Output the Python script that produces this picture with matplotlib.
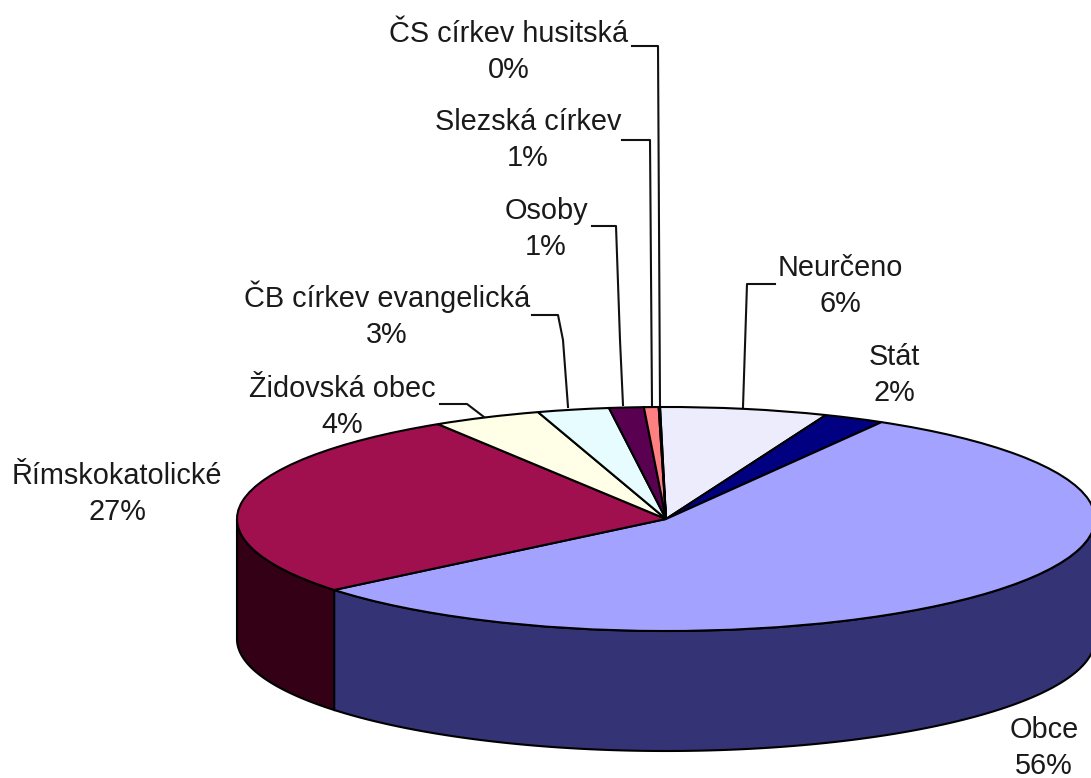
import numpy as np
import matplotlib
matplotlib.use('Agg')
import matplotlib.pyplot as plt

### Datos ###
nombres = ['Neurčeno', 'Stát', 'Obce', 'Římskokatolické', 'Židovská obec',
           'ČB církev evangelická', 'Osoby', 'Slezská církev', 'ČS církev husitská']
valores = [6.3, 2.3, 55.7, 27.0, 4.1, 2.7, 1.3, 0.55, 0.05]
colores = ['#ECECFC', '#000080', '#A3A3FF', '#A0104F', '#FFFFE8',
           '#E6FCFF', '#5A0050', '#FF8080', '#EEEEFF']
paredes = {'Obce': '#343375', 'Římskokatolické': '#330015'}

plt.rcParams['font.family'] = ['Liberation Sans', 'DejaVu Sans']

W, H = 1091, 778
cx, cy, rx, ry, alto = 666, 519, 429, 112, 120

fig = plt.figure(figsize=(W / 100, H / 100), dpi=100)

### Pastel: circulo unidad aplastado por los limites de los ejes ###
ax = fig.add_axes([0, 0, 1, 1])
wedges, _ = ax.pie(valores, colors=colores, startangle=90.8, counterclock=False,
                   wedgeprops={'edgecolor': 'black', 'linewidth': 1.5, 'zorder': 3})
ax.set_aspect('auto')
ax.set_xlim(-cx / rx, (W - cx) / rx)
ax.set_ylim((cy - H) / ry, cy / ry)
ax.axis('off')

# Pared lateral, solo la mitad de abajo del circulo
prof = alto / ry
for w, nombre in zip(wedges, nombres):
    a1, a2 = w.theta1 % 360, w.theta2 % 360
    if a2 < a1:
        a2 += 360
    a1, a2 = max(a1, 180), min(a2, 360)
    if nombre not in paredes or a2 <= a1:
        continue
    t = np.radians(np.linspace(a1, a2, 200))
    x = np.cos(t)
    y = np.sin(t)
    ax.fill(np.r_[x, x[::-1]], np.r_[y, y[::-1] - prof], facecolor=paredes[nombre],
            edgecolor='black', linewidth=1.5, zorder=2)

### Etiquetas, en pixeles ###
lab = fig.add_axes([0, 0, 1, 1])
lab.set_xlim(0, W)
lab.set_ylim(H, 0)
lab.axis('off')
lab.patch.set_alpha(0)

pos = {'Neurčeno': (840, 286), 'Stát': (894, 375), 'Obce': (1044, 748),
       'Římskokatolické': (117, 494), 'Židovská obec': (342, 407),
       'ČB církev evangelická': (387, 315), 'Osoby': (546, 229),
       'Slezská církev': (528, 140), 'ČS církev husitská': (509, 52)}
for nombre, v in zip(nombres, valores):
    x, y = pos[nombre]
    lab.text(x, y, f'{nombre}\n{round(v)}%', ha='center', va='center',
             fontsize=20.8, color='#1a1a1a', linespacing=1.36)

guias = [([775, 747, 743], [284, 284, 407]),
         ([440, 467, 484], [404, 404, 417]),
         ([532, 558, 563, 568], [315, 315, 340, 407]),
         ([592, 616, 620, 623], [226, 226, 340, 405]),
         ([622, 650, 652], [140, 140, 405]),
         ([632, 658, 660], [46, 46, 405])]
for gx, gy in guias:
    lab.plot(gx, gy, color='#111111', linewidth=1.5)

fig.savefig('out.png', dpi=100)
